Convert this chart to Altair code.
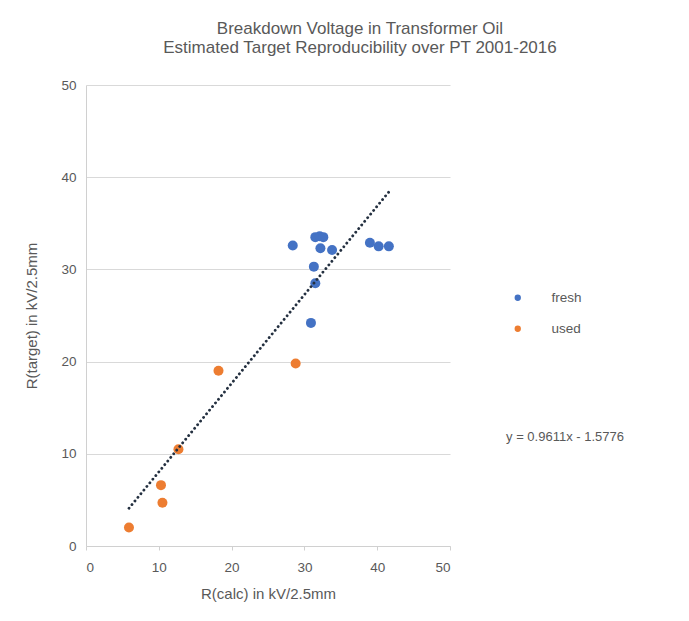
import altair as alt
import pandas as pd

# fresh oil: R(calc) and R(target) in kV/2.5mm
fresh_calc = [28.4, 31.5, 32.1, 32.6, 32.2, 33.8, 39.0, 40.2, 41.6, 31.3, 31.5, 30.9]
fresh_target = [32.6, 33.5, 33.6, 33.5, 32.3, 32.1, 32.9, 32.5, 32.5, 30.3, 28.5, 24.2]
# used oil
used_calc = [5.9, 10.5, 10.3, 12.7, 18.2, 28.8]
used_target = [2.0, 4.7, 6.6, 10.5, 19.0, 19.8]

slope = 0.9611
intercept = -1.5776
eq_label = "y = 0.9611x - 1.5776"

series = ["fresh"] * len(fresh_calc) + ["used"] * len(used_calc)
df = pd.DataFrame({
    "calc": fresh_calc + used_calc,
    "target": fresh_target + used_target,
    "series": series,
})

xmin = min(fresh_calc + used_calc)
xmax = max(fresh_calc + used_calc)
trend = pd.DataFrame({"calc": [xmin, xmax]})
trend["target"] = slope * trend["calc"] + intercept

eq_df = pd.DataFrame({"calc": [57.7], "target": [11.8], "label": [eq_label]})

FONT = "Liberation Sans"
GREY = "#595959"

xscale = alt.Scale(domain=[0, 50], nice=False)
yscale = alt.Scale(domain=[0, 50], nice=False)

points = alt.Chart(df).mark_circle(size=100, opacity=1).encode(
    x=alt.X("calc:Q", scale=xscale,
            axis=alt.Axis(title="R(calc) in kV/2.5mm", values=[0, 10, 20, 30, 40, 50],
                          grid=False, tickSize=4, labelPadding=10, titlePadding=13)),
    y=alt.Y("target:Q", scale=yscale,
            axis=alt.Axis(title="R(target) in kV/2.5mm", values=[0, 10, 20, 30, 40, 50],
                          grid=True, ticks=False, labelPadding=10, titlePadding=21)),
    color=alt.Color("series:N",
                    scale=alt.Scale(domain=["fresh", "used"], range=["#4472C4", "#ED7D31"]),
                    legend=alt.Legend(title=None, orient="none", legendX=425, legendY=206,
                                      symbolType="circle", symbolSize=40, labelFontSize=13.5,
                                      labelOffset=27, rowPadding=16, labelColor=GREY,
                                      labelFont=FONT)),
)

line = alt.Chart(trend).mark_line(
    color="#243040", strokeWidth=2.8, strokeDash=[0.1, 4.6], strokeCap="round"
).encode(x=alt.X("calc:Q", scale=xscale), y=alt.Y("target:Q", scale=yscale))

eq = alt.Chart(eq_df).mark_text(align="left", baseline="middle", fontSize=13,
                                 font=FONT, color=GREY).encode(
    x=alt.X("calc:Q", scale=xscale), y=alt.Y("target:Q", scale=yscale), text="label:N")

chart = alt.layer(points, line, eq).properties(
    width=364, height=461,
    title=alt.TitleParams(
        ["Breakdown Voltage in Transformer Oil",
         "Estimated Target Reproducibility over PT 2001-2016"],
        anchor="middle", dx=92, fontSize=17, fontWeight="normal",
        font=FONT, color=GREY, offset=21, lineHeight=19),
    autosize="none",
    padding={"left": 78, "top": 77, "right": 231, "bottom": 67},
).configure_view(stroke=None).configure_axis(
    domainColor="#d0d0d0", gridColor="#d9d9d9", tickColor="#d0d0d0",
    labelColor=GREY, titleColor=GREY, labelFont=FONT, titleFont=FONT,
    labelFontSize=13.5, titleFontSize=15, titleFontWeight="normal",
)

chart.save("out.html", embed_options={"renderer": "svg", "actions": False})
